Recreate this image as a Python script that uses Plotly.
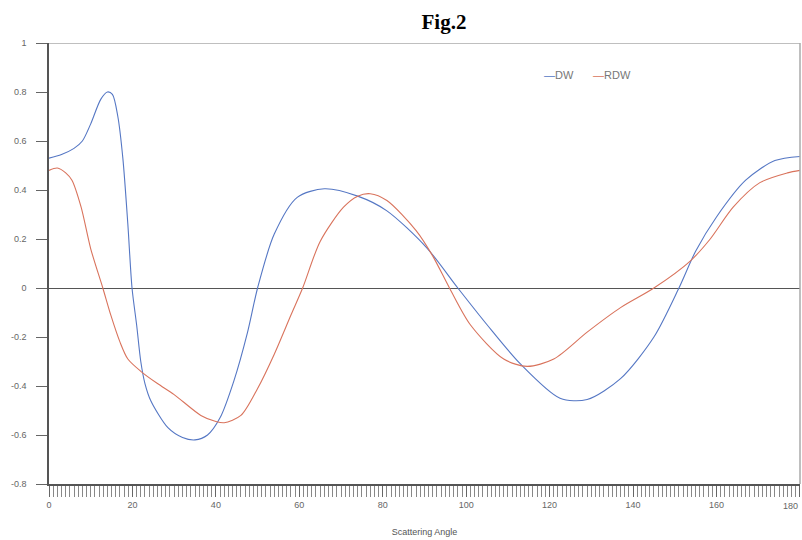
import plotly.graph_objects as go

# Data
dw_x = [0, 3, 6, 8, 10, 12.4, 14, 15.2, 16.5, 17.7, 18.9, 19.9, 21, 22, 23, 24.4,
        28.5, 32, 35, 38, 41, 44.3, 47.6, 50, 54, 59.5, 66, 74, 81, 90.5, 98,
        105, 113, 122.5, 129, 137, 145, 151, 155, 160, 167, 174, 180]
dw_y = [0.53, 0.545, 0.57, 0.60, 0.67, 0.77, 0.80, 0.79, 0.70, 0.53, 0.26, 0.0, -0.15,
        -0.30, -0.39, -0.46, -0.57, -0.61, -0.62, -0.60, -0.53, -0.38, -0.18, 0.0,
        0.22, 0.37, 0.405, 0.375, 0.315, 0.165, 0.0, -0.15, -0.31, -0.45, -0.455,
        -0.37, -0.2, 0.0, 0.15, 0.29, 0.44, 0.52, 0.537]

rdw_x = [0, 2, 4, 5.5, 7.7, 10, 12.9, 14.8, 17, 18.9, 22, 26, 30, 36.4, 40, 42, 46,
         50, 54, 58, 60.8, 65, 70.6, 74, 77, 81, 88, 92, 96, 101, 109, 114.6, 121,
         129, 137, 145, 153.7, 158.5, 164, 170.4, 177, 180]
rdw_y = [0.48, 0.49, 0.47, 0.44, 0.33, 0.16, 0.0, -0.11, -0.22, -0.29, -0.34, -0.39,
         -0.435, -0.52, -0.545, -0.55, -0.52, -0.41, -0.27, -0.11, 0.0, 0.19, 0.33,
         0.375, 0.385, 0.357, 0.234, 0.13, 0.0, -0.15, -0.29, -0.32, -0.29, -0.18,
         -0.08, 0.0, 0.11, 0.2, 0.33, 0.43, 0.47, 0.48]

y_tickvals = [1, 0.8, 0.6, 0.4, 0.2, 0, -0.2, -0.4, -0.6, -0.8]
y_ticktext = ["1", "0.8", "0.6", "0.4", "0.2", "0", "-0.2", "-0.4", "-0.6", "-0.8"]
x_tickvals = [0, 20, 40, 60, 80, 100, 120, 140, 160, 180]
x_ticktext = ["0", "20", "40", "60", "80", "100", "120", "140", "160", "180"]

BLUE = "#5577c4"
RED = "#d9735c"

fig = go.Figure()
fig.add_trace(go.Scatter(x=dw_x, y=dw_y, mode="lines", name="DW",
                         line=dict(color=BLUE, width=1.1, shape="spline", smoothing=0.8)))
fig.add_trace(go.Scatter(x=rdw_x, y=rdw_y, mode="lines", name="RDW",
                         line=dict(color=RED, width=1.1, shape="spline", smoothing=0.8)))

tickfont = dict(family="Liberation Sans", size=9, color="#666")

fig.update_layout(
    width=802, height=540,
    margin=dict(l=49, r=2, t=43, b=56),
    paper_bgcolor="white", plot_bgcolor="white",
    showlegend=False,
    title=dict(text="<b>Fig.2</b>", x=444 / 802, xanchor="center", y=1 - 22 / 540,
               yanchor="middle", font=dict(family="Liberation Serif", size=21, color="black")),
    xaxis=dict(range=[0, 180.02], tickvals=x_tickvals, ticktext=x_ticktext,
               automargin=False,
               ticks="outside", ticklen=11, tickcolor="#666", tickwidth=1,
               minor=dict(dtick=1, tick0=0, ticks="outside", ticklen=11, tickcolor="#888", tickwidth=1),
               showgrid=False, zeroline=False,
               showline=True, linecolor="#555", linewidth=1.5,
               tickfont=tickfont,
               title=dict(text="Scattering Angle", standoff=20,
                          font=dict(family="Liberation Sans", size=9, color="#555"))),
    yaxis=dict(range=[-0.8, 1], tickvals=y_tickvals, ticktext=y_ticktext,
               automargin=False,
               ticks="outside", ticklen=11, tickcolor="#666", tickwidth=1,
               showgrid=False, zeroline=True, zerolinecolor="#555", zerolinewidth=1.2,
               showline=True, linecolor="#555", linewidth=1.5,
               ticklabelstandoff=8, tickfont=tickfont),
)

# top and right frame lines
fig.add_shape(type="line", xref="paper", yref="y", x0=0, x1=1, y0=1, y1=1,
              line=dict(color="#aaa", width=1.5))
fig.add_shape(type="line", xref="paper", yref="paper", x0=1, x1=1, y0=0, y1=1,
              line=dict(color="#aaa", width=1.5))

# last x tick label, kept inside the page
fig.add_annotation(xref="x", yref="paper", x=x_tickvals[-1], y=(484 - 506) / 441,
                   xanchor="right", yanchor="middle", showarrow=False,
                   text=x_ticktext[-1], font=tickfont)

# legend drawn as annotations
fig.add_annotation(xref="paper", yref="paper", x=(542 - 49) / 751, y=(484 - 75) / 441,
                   xanchor="left", yanchor="middle", showarrow=False,
                   text=f"<span style='color:{BLUE}'>—</span>DW",
                   font=dict(family="Liberation Sans", size=11, color="#777"))
fig.add_annotation(xref="paper", yref="paper", x=(591 - 49) / 751, y=(484 - 75) / 441,
                   xanchor="left", yanchor="middle", showarrow=False,
                   text=f"<span style='color:{RED}'>—</span>RDW",
                   font=dict(family="Liberation Sans", size=11, color="#777"))

fig.write_html("out.html", config={"displayModeBar": False},
               post_script="document.body.style.margin='0';")
